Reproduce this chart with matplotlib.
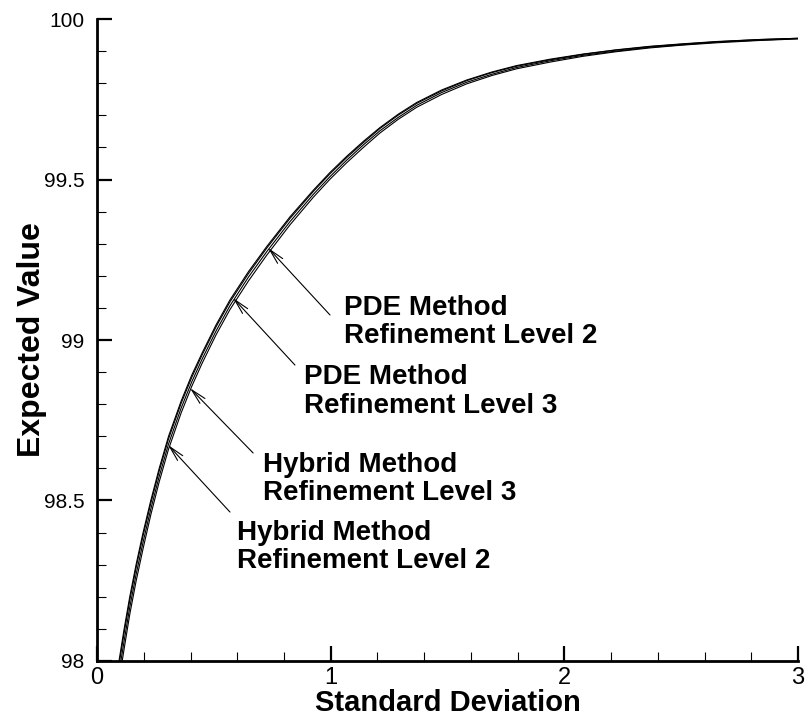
import matplotlib
matplotlib.use('Agg')
import matplotlib.pyplot as plt
from matplotlib.ticker import MultipleLocator, FuncFormatter

plt.rcParams['font.family'] = ['Liberation Sans', 'DejaVu Sans']
XLABEL_SIZE = 21
YLABEL_SIZE = 23
NOTE_SIZE = 20

# values
sigma = [0.094, 0.116, 0.140, 0.167, 0.197, 0.230, 0.266, 0.306, 0.360, 0.405,
         0.450, 0.510, 0.569, 0.648, 0.726, 0.826, 0.926, 0.997, 1.068, 1.140,
         1.211, 1.290, 1.368, 1.475, 1.582, 1.690, 1.796, 1.940, 2.081, 2.220,
         2.366, 2.510, 2.652, 2.830, 3.000]
hybrid_lvl2 = [98.000, 98.100, 98.200, 98.300, 98.400, 98.500, 98.600, 98.700, 98.810, 98.890,
               98.960, 99.048, 99.125, 99.213, 99.291, 99.384, 99.467, 99.522, 99.572, 99.619,
               99.662, 99.704, 99.740, 99.779, 99.810, 99.835, 99.855, 99.875, 99.891, 99.904,
               99.915, 99.923, 99.930, 99.936, 99.940]
hybrid_lvl3 = [97.988, 98.088, 98.189, 98.290, 98.390, 98.491, 98.592, 98.692, 98.803, 98.883,
               98.954, 99.042, 99.119, 99.207, 99.286, 99.379, 99.463, 99.518, 99.568, 99.615,
               99.659, 99.701, 99.737, 99.776, 99.808, 99.833, 99.853, 99.873, 99.890, 99.903,
               99.914, 99.922, 99.929, 99.936, 99.940]
pde_lvl3 = [97.963, 98.063, 98.167, 98.269, 98.370, 98.473, 98.575, 98.676, 98.788, 98.869,
            98.941, 99.029, 99.107, 99.196, 99.275, 99.369, 99.454, 99.509, 99.560, 99.608,
            99.652, 99.694, 99.731, 99.771, 99.803, 99.828, 99.849, 99.870, 99.887, 99.900,
            99.912, 99.920, 99.928, 99.934, 99.939]
pde_lvl2 = [97.938, 98.038, 98.145, 98.248, 98.350, 98.455, 98.558, 98.660, 98.773, 98.855,
            98.928, 99.017, 99.095, 99.184, 99.264, 99.359, 99.445, 99.501, 99.552, 99.600,
            99.645, 99.688, 99.725, 99.765, 99.798, 99.824, 99.845, 99.866, 99.884, 99.898,
            99.910, 99.919, 99.926, 99.933, 99.938]

fig = plt.figure(figsize=(8.1, 7.18), dpi=100)
ax = fig.add_axes([0.1198, 0.0794, 0.8654, 0.8941])

for ys in (hybrid_lvl2, hybrid_lvl3, pde_lvl3, pde_lvl2):
    ax.plot(sigma, ys, color='black', lw=0.8, solid_joinstyle='round')

ax.set_xlim(0, 3)
ax.set_ylim(98, 100)
ax.spines['top'].set_visible(False)
ax.spines['right'].set_visible(False)
ax.spines['left'].set_linewidth(2)
ax.spines['bottom'].set_linewidth(2)

ax.xaxis.set_major_locator(MultipleLocator(1))
ax.xaxis.set_minor_locator(MultipleLocator(0.2))
ax.yaxis.set_major_locator(MultipleLocator(0.5))
ax.yaxis.set_minor_locator(MultipleLocator(0.1))
ax.yaxis.set_major_formatter(FuncFormatter(lambda v, _: f'{v:g}'))
ax.xaxis.set_major_formatter(FuncFormatter(lambda v, _: f'{v:g}'))
ax.tick_params(which='major', direction='in', length=10.8, width=1.6)
ax.tick_params(which='minor', direction='in', length=6.5, width=0.8)
ax.tick_params(axis='x', which='major', pad=4, labelsize=17)
ax.tick_params(axis='y', which='major', pad=9, labelsize=15)

ax.set_xlabel('Standard Deviation', fontsize=XLABEL_SIZE, fontweight='bold')
ax.set_ylabel('Expected Value', fontsize=YLABEL_SIZE, fontweight='bold')
ax.xaxis.set_label_coords(0.5, -0.043)
ax.yaxis.set_label_coords(-0.071, 0.5)

notes = [
    ('PDE Method', 'Refinement Level 2', (0.732, 99.287), (0.997, 99.078), 1.057, 99.078, 98.991),
    ('PDE Method', 'Refinement Level 3', (0.582, 99.131), (0.847, 98.922), 0.886, 98.863, 98.773),
    ('Hybrid Method', 'Refinement Level 3', (0.398, 98.850), (0.668, 98.648), 0.710, 98.589, 98.502),
    ('Hybrid Method', 'Refinement Level 2', (0.304, 98.673), (0.569, 98.464), 0.599, 98.377, 98.290),
]
for l1, l2, tip, tail, tx, ty1, ty2 in notes:
    ax.annotate('', xy=tip, xytext=tail,
                arrowprops=dict(arrowstyle='->,head_length=1.1,head_width=0.25',
                                lw=0.8, color='black', shrinkA=0, shrinkB=0))
    ax.text(tx, ty1, l1, fontsize=NOTE_SIZE, fontweight='bold', va='baseline', ha='left')
    ax.text(tx, ty2, l2, fontsize=NOTE_SIZE, fontweight='bold', va='baseline', ha='left')

fig.savefig('out.png', dpi=100)
